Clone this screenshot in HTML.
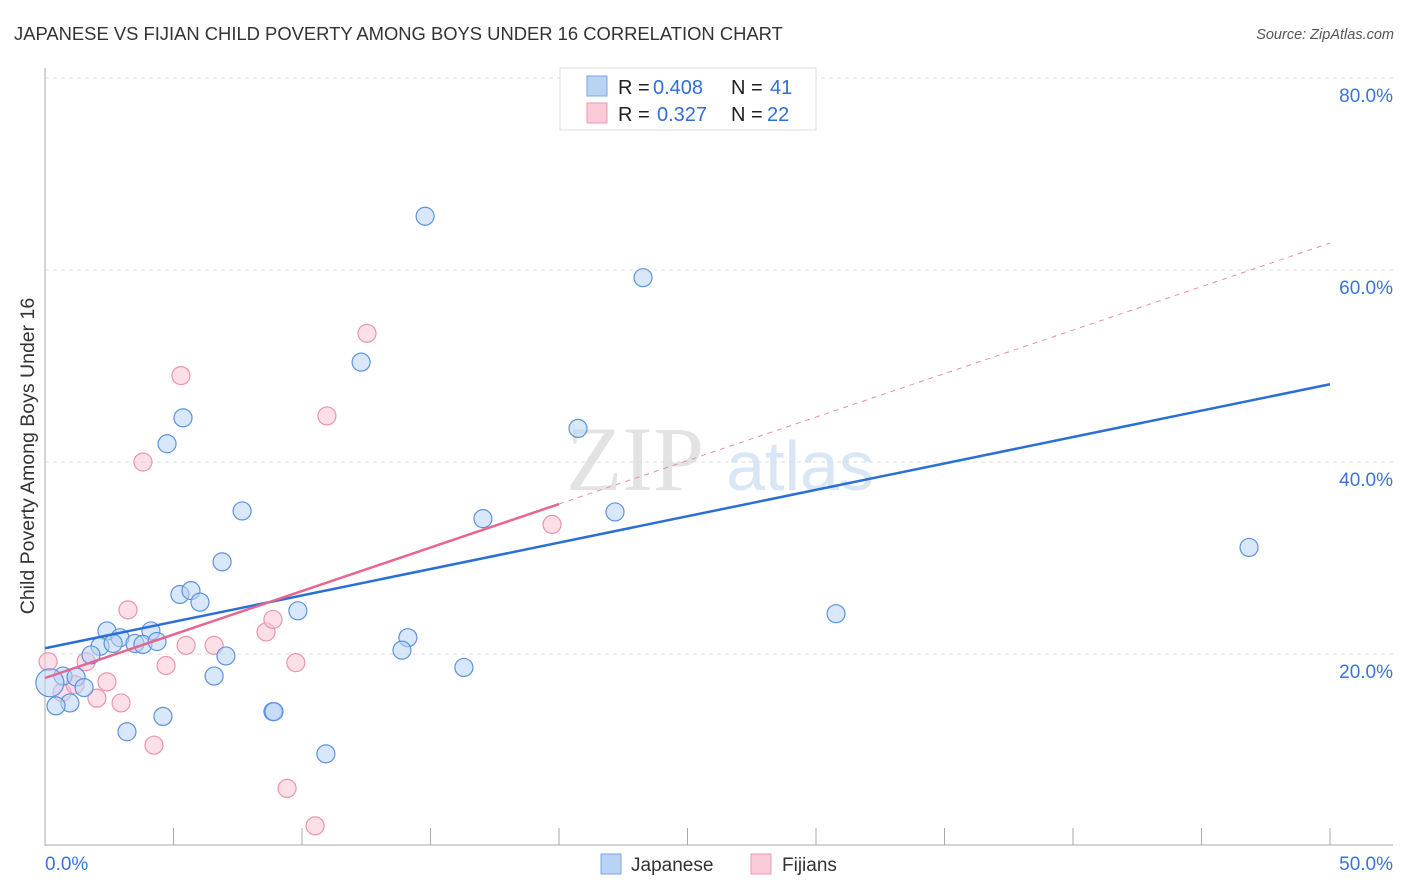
<!DOCTYPE html>
<html><head><meta charset="utf-8">
<style>
body{margin:0;background:#fff;font-family:"Liberation Sans",sans-serif;}
#wrap{position:relative;width:1406px;height:892px;overflow:hidden;}
</style></head>
<body>
<div id="wrap">
<svg id="svg" width="1406" height="892" xmlns="http://www.w3.org/2000/svg">
<text x="14" y="40" font-size="18.4" fill="#333">JAPANESE VS FIJIAN CHILD POVERTY AMONG BOYS UNDER 16 CORRELATION CHART</text>
<text x="1394" y="39" font-size="14.5" fill="#555" font-style="italic" text-anchor="end">Source: ZipAtlas.com</text>
<text transform="translate(34,456) rotate(-90)" font-size="19.5" fill="#333" text-anchor="middle">Child Poverty Among Boys Under 16</text>
<g>
<text x="635" y="490" font-size="92" fill="#ddd" font-family="Liberation Serif,serif" text-anchor="middle" opacity="0.8">ZIP</text>
<text x="800" y="490" font-size="70" fill="#cfe0f3" text-anchor="middle" opacity="0.8">atlas</text>
</g>
<g id="grid"></g>
<g id="marks"></g>
<g>
<rect x="560" y="68" width="256" height="62" fill="#fff" stroke="#ddd"/>
<rect x="587" y="76" width="20" height="20" fill="#b9d3f5" stroke="#7aa6e6"/>
<rect x="587" y="103" width="20" height="20" fill="#fbcbd9" stroke="#ef9ab5"/>
<text x="618" y="94" font-size="20" fill="#222">R = <tspan fill="#2f6fd6" x="653">0.408</tspan><tspan x="731">N = </tspan><tspan fill="#2f6fd6" x="770">41</tspan></text>
<text x="618" y="121" font-size="20" fill="#222">R = <tspan fill="#2f6fd6" x="657">0.327</tspan><tspan x="731">N = </tspan><tspan fill="#2f6fd6" x="767">22</tspan></text>
</g>
<g>
<rect x="601" y="854" width="20" height="20" fill="#b9d3f5" stroke="#7aa6e6"/>
<text x="631" y="871" font-size="19" fill="#333">Japanese</text>
<rect x="751" y="854" width="20" height="20" fill="#fbcbd9" stroke="#ef9ab5"/>
<text x="782" y="871" font-size="19" fill="#333">Fijians</text>
</g>
</svg>
</div>
<script>
const xTicks=[0,50];
const xTickLabels=["0.0%","50.0%"];
const yTicks=[20,40,60,80];
const yTickLabels=["20.0%","40.0%","60.0%","80.0%"];
const japX=[14.79,23.27,12.30,5.37,4.75,20.74,7.67,17.04,22.18,46.85,6.89,5.25,5.68,6.03,9.84,30.78,2.41,4.12,2.92,3.50,3.81,4.36,2.14,2.65,14.12,13.89,1.79,7.04,16.30,6.58,0.70,1.21,1.52,0.97,0.43,4.59,8.87,8.91,3.19,10.93,0.19];
const japY=[65.6,59.2,50.4,44.6,41.9,43.5,34.9,34.1,34.8,31.1,29.6,26.2,26.6,25.4,24.5,24.2,22.4,22.4,21.7,21.1,21.0,21.3,20.8,21.1,21.7,20.4,19.9,19.8,18.6,17.7,17.7,17.6,16.5,14.9,14.6,13.5,14.0,14.0,11.9,9.6,17.0];
const fijX=[12.53,5.29,10.97,3.81,19.73,3.23,8.60,5.49,6.58,8.87,9.76,1.60,4.71,0.12,2.41,0.66,2.02,2.96,4.24,9.42,10.51,1.17];
const fijY=[53.4,49.0,44.8,40.0,33.5,24.6,22.3,20.9,20.9,23.6,19.1,19.2,18.8,19.2,17.1,16.0,15.4,14.9,10.5,6.0,2.1,16.8];
const japLine=[20.6,48.1];
const fijLine=[17.5,62.8];
const fijSolidEnd=20;
const NS="http://www.w3.org/2000/svg";
const X=v=>45+v/50*1285;
const Y=v=>846-v/20*192;
function mk(tag,attrs,parent){const e=document.createElementNS(NS,tag);for(const k in attrs)e.setAttribute(k,attrs[k]);parent.appendChild(e);return e;}
const grid=document.getElementById('grid'),marks=document.getElementById('marks');
yTicks.forEach((t,i)=>{
 const l=mk('line',{x1:45,x2:1393,y1:Y(t),y2:Y(t),stroke:'#ddd','stroke-dasharray':'4,4'},grid);
 
 
 const tx=mk('text',{x:1393,y:Y(t)+24,'font-size':19,fill:'#3b73d9','text-anchor':'end'},grid);
 tx.textContent=yTickLabels[i];
 
 
});
mk('line',{x1:45,x2:45,y1:68,y2:846,stroke:'#aaa'},grid);
mk('line',{x1:45,x2:1393,y1:845,y2:845,stroke:'#aaa'},grid);
for(let i=0;i<=10;i++){const v=i*5;mk('line',{x1:X(v),x2:X(v),y1:828,y2:845,stroke:'#aaa'},grid);}
xTicks.forEach((t,i)=>{
 const tx=mk('text',{x:t===0?45:1393,y:870,'font-size':19,fill:'#3b73d9','text-anchor':t===0?'start':'end'},grid);
 tx.textContent=xTickLabels[i];
 
 
});
function pts(xs,ys,fill,stroke,name){xs.forEach((x,i)=>{
 const c=mk('circle',{cx:X(x),cy:Y(ys[i]),r:(i===xs.length-1&&name==='japanese-point')?14:9,fill:fill,'fill-opacity':0.55,stroke:stroke,'stroke-width':1.2},marks);
 
 
});}
pts(fijX,fijY,'#f9c4d4','#ec94b0','fijian-point');
pts(japX,japY,'#b9d3f5','#5b93e0','japanese-point');
const fd=mk('line',{x1:X(fijSolidEnd),y1:Y(fijLine[0]+(fijLine[1]-fijLine[0])*fijSolidEnd/50),x2:X(50),y2:Y(fijLine[1]),stroke:'#e690aa','stroke-dasharray':'5,5','stroke-width':1},marks);


const jl=mk('line',{x1:X(0),y1:Y(japLine[0]),x2:X(50),y2:Y(japLine[1]),stroke:'#2a6fd6','stroke-width':2.5},marks);


const fl=mk('line',{x1:X(0),y1:Y(fijLine[0]),x2:X(fijSolidEnd),y2:Y(fijLine[0]+(fijLine[1]-fijLine[0])*fijSolidEnd/50),stroke:'#e8658f','stroke-width':2.5},marks);


</script>
</body></html>
